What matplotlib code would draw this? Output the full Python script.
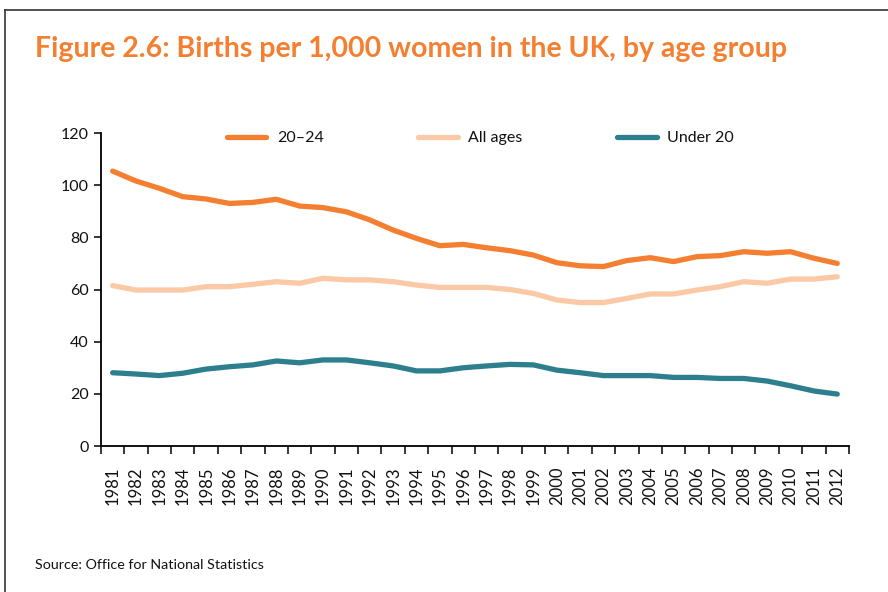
import numpy as np
import matplotlib.pyplot as plt
from matplotlib.lines import Line2D

plt.rcParams['font.family'] = ['Lato', 'DejaVu Sans']

# data
years = [str(y) for y in range(1981, 2013)]
age_20_24 = [105.4, 101.6, 98.8, 95.6, 94.7, 93.0, 93.4, 94.6, 92.0, 91.4,
             89.8, 86.7, 82.8, 79.6, 76.8, 77.3, 76.0, 74.9, 73.2, 70.3,
             69.1, 68.8, 71.1, 72.2, 70.7, 72.6, 73.0, 74.5, 73.9, 74.5,
             72.0, 70.0]
all_ages = [61.5, 59.8, 59.8, 59.8, 61.1, 61.1, 62.0, 63.0, 62.4, 64.3,
            63.7, 63.7, 63.0, 61.7, 60.8, 60.8, 60.8, 60.0, 58.5, 56.0,
            55.0, 55.0, 56.6, 58.3, 58.3, 59.8, 61.1, 63.0, 62.4, 64.0,
            64.0, 64.9]
under_20 = [28.1, 27.6, 27.0, 27.9, 29.5, 30.4, 31.1, 32.6, 31.9, 33.0,
            33.0, 31.9, 30.7, 28.8, 28.8, 30.0, 30.7, 31.3, 31.1, 29.1,
            28.1, 27.0, 27.0, 27.0, 26.3, 26.3, 25.9, 25.9, 24.9, 23.1,
            21.1, 19.9]

orange = '#F47F30'
peach = '#FBC9A6'
teal = '#2E7F8E'

fig = plt.figure(figsize=(8.88, 5.92), dpi=100)
ax = fig.add_axes([0.1137, 0.2466, 0.8423, 0.5287])

x = np.arange(len(years))
ax.plot(x, age_20_24, color=orange, lw=3.8, solid_capstyle='round', solid_joinstyle='round', label='20\u201324')
ax.plot(x, all_ages, color=peach, lw=3.8, solid_capstyle='round', solid_joinstyle='round', label='All ages')
ax.plot(x, under_20, color=teal, lw=3.8, solid_capstyle='round', solid_joinstyle='round', label='Under 20')

ax.set_xlim(-0.5, len(years) - 0.5)
ax.set_ylim(0, 120)
ax.set_yticks(range(0, 121, 20))

# category style axis: ticks between years, labels at the centres
ax.set_xticks(np.arange(-0.5, len(years), 1.0))
ax.set_xticklabels([])
ax.set_xticks(x, minor=True)
ax.set_xticklabels(years, minor=True, rotation=90)
ax.tick_params(axis='x', which='major', length=6, width=1.1, direction='out')
ax.tick_params(axis='x', which='minor', length=0, pad=15, labelsize=12, colors='#111111')
ax.tick_params(axis='y', length=5, width=1.1, labelsize=11.5, colors='#111111', pad=4)
ax.tick_params(axis='both', color='black')

for s in ['top', 'right']:
    ax.spines[s].set_visible(False)
for s in ['left', 'bottom']:
    ax.spines[s].set_linewidth(1.3)
    ax.spines[s].set_color('black')

leg = ax.legend(loc='center', bbox_to_anchor=(0.507, 0.984), ncol=3, frameon=False,
                fontsize=11.5, handlelength=2.5, handletextpad=0.65, columnspacing=5.9,
                borderaxespad=0)
for t in leg.get_texts():
    t.set_color('#111111')

fig.text(35 / 888, 1 - 49 / 592, 'Figure 2.6: Births per 1,000 women in the UK, by age group',
         color=orange, fontsize=20.5, fontweight='bold', va='center', ha='left')
fig.text(35 / 888, 1 - 565 / 592, 'Source: Office for National Statistics',
         color='#111111', fontsize=10.3, va='center', ha='left')

# page frame
fig.add_artist(Line2D([4.5 / 888, 1.0], [1 - 10 / 592, 1 - 10 / 592], color='#333333', lw=1.2))
fig.add_artist(Line2D([4.5 / 888, 4.5 / 888], [0, 1 - 10 / 592], color='#333333', lw=1.2))

fig.savefig('out.png', dpi=100)
